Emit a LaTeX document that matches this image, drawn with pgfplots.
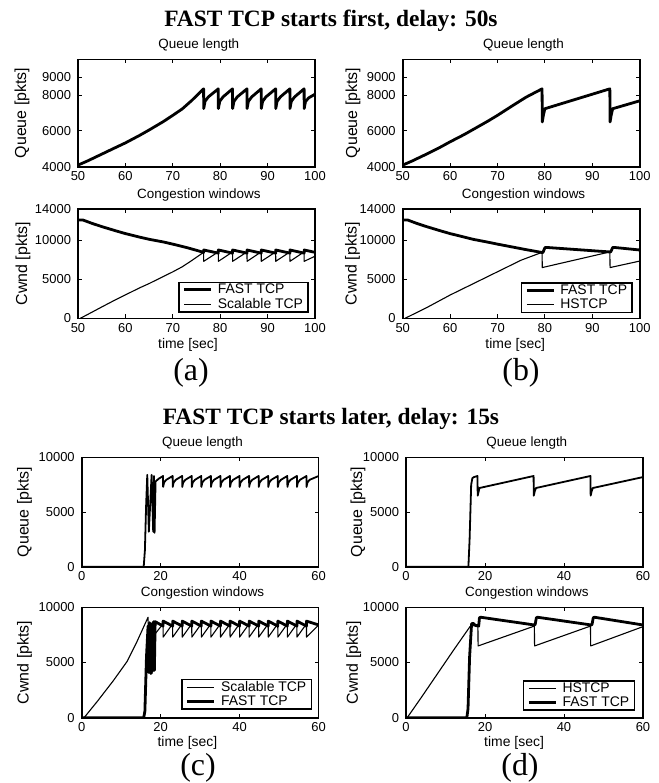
\documentclass[border=0pt]{standalone}
\usepackage{fontspec}
\setmainfont{Liberation Serif}
\setsansfont{Liberation Sans}
\usepackage{pgfplots}
\pgfplotsset{compat=1.18}

\pgfplotsset{
  panel/.style={
    scale only axis,
    width=237bp,
    scaled ticks=false,
    axis line style={line width=1.6bp},
    every tick/.style={black, line width=1bp},
    major tick length=4bp,
    tick align=inside,
    every tick label/.append style={font=\fontsize{13}{14}\selectfont\sffamily},
    xticklabel style={inner sep=1bp, yshift=-4bp},
    yticklabel style={xshift=-3.5bp},
    title style={font=\fontsize{13.5}{15}\selectfont\sffamily, at={(axis description cs:0.51,1)}, anchor=base, yshift=4.5bp},
    ylabel style={font=\fontsize{16}{18}\selectfont\sffamily, anchor=center},
    xlabel style={font=\fontsize{14}{16}\selectfont\sffamily, anchor=base, inner sep=0pt},
    legend image code/.code={\draw[##1] (0bp,0bp) -- (27bp,0bp);},
    legend cell align=left,
    legend style={draw=black, line width=1.6bp, fill=white, inner xsep=4bp, inner ysep=0.5bp,
      nodes={inner sep=1.2bp, text depth=0.2em},
      font=\fontsize{14}{15}\selectfont\sffamily,
      /tikz/every odd column/.append style={column sep=4bp},
      anchor=south east},
  },
  fast/.style={black, line width=2.8bp, line join=round},
  thin/.style={black, line width=1.1bp, line join=round},
}

\begin{document}
\begin{tikzpicture}
\path[use as bounding box] (0bp,0bp) rectangle (659bp,-783bp);

% ---------------- (a) FAST TCP vs Scalable TCP ----------------
\begin{axis}[panel, at={(78bp,-166.7bp)}, anchor=south west, height=107.4bp,
  xmin=50, xmax=100, ymin=4000, ymax=10000,
  xtick={50,60,70,80,90,100}, xticklabels={50,60,70,80,90,100},
  ytick={4000,6000,8000,9000}, yticklabels={4000,6000,8000,9000},
  title={Queue length}, ylabel={Queue [pkts]},
  ylabel style={at={(axis description cs:-0.236,0.5)}}]
\addplot[fast] coordinates {
(50,4090)(52,4320)(55,4700)(58,5080)(60,5330)(63,5750)(65,6050)(68,6520)(70,6870)(72,7230)(74,7700)(76.5,8350)
(76.52,7250)(76.8,7650)(77.5,7900)(79.6,8350)
(79.62,7250)(79.9,7650)(80.6,7900)(82.6,8350)
(82.62,7250)(82.9,7650)(83.6,7900)(85.65,8350)
(85.67,7250)(85.95,7650)(86.65,7900)(88.65,8350)
(88.67,7250)(88.95,7650)(89.65,7900)(91.7,8350)
(91.72,7250)(92.0,7650)(92.7,7900)(94.7,8350)
(94.72,7250)(95.0,7650)(95.7,7900)(97.7,8350)
(97.72,7250)(98.0,7650)(98.7,7850)(100,8050)};
\end{axis}

\begin{axis}[panel, at={(78bp,-318.3bp)}, anchor=south west, height=109.3bp,
  xmin=50, xmax=100, ymin=0, ymax=14000,
  xtick={50,60,70,80,90,100}, xticklabels={50,60,70,80,90,100},
  ytick={0,5000,10000,14000}, yticklabels={0,5000,10000,14000},
  title={Congestion windows}, ylabel={Cwnd [pkts]}, xlabel={time [sec]},
  ylabel style={at={(axis description cs:-0.232,0.5)}},
  xlabel style={at={(axis description cs:0.464,0)}, yshift=-30bp},
  legend style={at={(0.975,0.051)}}]
\addplot[fast] coordinates {
(50,12600)(51,12600)(53,12150)(55,11750)(58,11200)(60,10850)(63,10400)(65,10120)(68,9780)(70,9500)(73,9050)(76.5,8450)
(76.52,8750)(79.6,8350)(79.62,8750)(82.6,8350)(82.62,8750)(85.65,8350)(85.67,8750)(88.65,8350)
(88.67,8750)(91.7,8350)(91.72,8750)(94.7,8350)(94.72,8750)(97.7,8350)(97.72,8750)(100,8450)};
\addlegendentry{FAST TCP}
\addplot[thin] coordinates {
(50.5,0)(53,800)(55,1450)(58,2400)(60,3000)(63,3900)(65,4450)(68,5350)(70,5950)(72,6600)(74,7400)(76.5,8450)
(76.52,7300)(79.6,8500)(79.62,7300)(82.6,8500)(82.62,7300)(85.65,8500)(85.67,7300)(88.65,8500)
(88.67,7300)(91.7,8500)(91.72,7300)(94.7,8500)(94.72,7300)(97.7,8500)(97.72,7300)(100,7950)};
\addlegendentry{Scalable TCP}
\end{axis}

% ---------------- (b) FAST TCP vs HSTCP ----------------
\begin{axis}[panel, at={(402.7bp,-166.7bp)}, anchor=south west, height=107.4bp,
  xmin=50, xmax=100, ymin=4000, ymax=10000,
  xtick={50,60,70,80,90,100}, xticklabels={50,60,70,80,90,100},
  ytick={4000,6000,8000,9000}, yticklabels={4000,6000,8000,9000},
  title={Queue length}, ylabel={Queue [pkts]},
  ylabel style={at={(axis description cs:-0.21,0.5)}}]
\addplot[fast] coordinates {
(50,4090)(52,4320)(55,4700)(58,5100)(60,5390)(63,5800)(65,6100)(68,6550)(70,6870)(73,7380)(76,7880)(79.4,8350)
(79.45,6500)(79.7,6900)(80.0,7240)(93.7,8350)(93.75,6500)(94.0,6900)(94.3,7240)(100,7680)};
\end{axis}

\begin{axis}[panel, at={(402.7bp,-318.3bp)}, anchor=south west, height=109.3bp,
  xmin=50, xmax=100, ymin=0, ymax=14000,
  xtick={50,60,70,80,90,100}, xticklabels={50,60,70,80,90,100},
  ytick={0,5000,10000,14000}, yticklabels={0,5000,10000,14000},
  title={Congestion windows}, ylabel={Cwnd [pkts]}, xlabel={time [sec]},
  ylabel style={at={(axis description cs:-0.212,0.5)}},
  xlabel style={at={(axis description cs:0.475,0)}, yshift=-30bp},
  legend style={at={(0.972,0.046)}}]
\addplot[fast] coordinates {
(50,12600)(51,12600)(53,12150)(55,11750)(58,11200)(60,10850)(63,10400)(65,10100)(68,9750)(70,9500)(73,9150)(76,8800)(79.4,8430)
(79.6,8450)(80.0,9050)(80.3,9080)(93.7,8500)(93.9,8520)(94.3,9060)(94.6,9080)(100,8750)};
\addlegendentry{FAST TCP}
\addplot[thin] coordinates {
(50.5,0)(55,1350)(60,2980)(65,4470)(70,5960)(75,7450)(79.4,8450)(79.45,6500)(93.7,8500)(93.75,6500)(100,7330)};
\addlegendentry{HSTCP}
\end{axis}

% ---------------- (c) Scalable TCP first, FAST TCP later ----------------
\begin{axis}[panel, at={(81.7bp,-566.7bp)}, anchor=south west, height=109.3bp,
  xmin=0, xmax=60, ymin=0, ymax=10000,
  xtick={0,20,40,60}, xticklabels={0,20,40,60},
  ytick={0,5000,10000}, yticklabels={0,5000,10000},
  title={Queue length}, ylabel={Queue [pkts]},
  ylabel style={at={(axis description cs:-0.241,0.5)}}]
\addplot[fast, line width=1.8bp] coordinates {
(0,0)(15.7,0)(16.0,1500)(16.3,5500)(16.6,8400)(17.0,3200)(17.7,8400)(18.1,3200)(18.3,8300)(18.45,3100)(18.7,7800)(19.5,8050)(20.6,8300)
(20.62,7300)(20.85,7700)(21.4,7950)(23.02,8300)(23.04,7300)(23.27,7700)(23.82,7950)(25.44,8300)
(25.46,7300)(25.69,7700)(26.24,7950)(27.86,8300)(27.88,7300)(28.11,7700)(28.66,7950)(30.28,8300)
(30.30,7300)(30.53,7700)(31.08,7950)(32.70,8300)(32.72,7300)(32.95,7700)(33.50,7950)(35.12,8300)
(35.14,7300)(35.37,7700)(35.92,7950)(37.54,8300)(37.56,7300)(37.79,7700)(38.34,7950)(39.96,8300)
(39.98,7300)(40.21,7700)(40.76,7950)(42.38,8300)(42.40,7300)(42.63,7700)(43.18,7950)(44.80,8300)
(44.82,7300)(45.05,7700)(45.60,7950)(47.22,8300)(47.24,7300)(47.47,7700)(48.02,7950)(49.64,8300)
(49.66,7300)(49.89,7700)(50.44,7950)(52.06,8300)(52.08,7300)(52.31,7700)(52.86,7950)(54.48,8300)
(54.50,7300)(54.73,7700)(55.28,7950)(56.90,8300)(56.92,7300)(57.15,7700)(57.70,7950)(60,8300)};
\end{axis}

\begin{axis}[panel, at={(81.7bp,-717.7bp)}, anchor=south west, height=110.4bp,
  xmin=0, xmax=60, ymin=0, ymax=10000,
  xtick={0,20,40,60}, xticklabels={0,20,40,60},
  ytick={0,5000,10000}, yticklabels={0,5000,10000},
  title={Congestion windows}, ylabel={Cwnd [pkts]}, xlabel={time [sec]},
  ylabel style={at={(axis description cs:-0.241,0.5)}},
  xlabel style={at={(axis description cs:0.446,0)}, yshift=-29bp},
  legend style={at={(0.973,0.07)}}]
\addplot[thin] coordinates {
(0.6,0)(4,1500)(8,3350)(11.5,5100)(14,6900)(16.8,9100)(17.0,4200)(17.4,8400)(17.8,4000)(18.1,8300)(18.4,4300)(18.6,7600)(20.6,8500)
(20.62,7300)(23.02,8500)(23.04,7300)(25.44,8500)(25.46,7300)(27.86,8500)(27.88,7300)(30.28,8500)
(30.30,7300)(32.70,8500)(32.72,7300)(35.12,8500)(35.14,7300)(37.54,8500)(37.56,7300)(39.96,8500)
(39.98,7300)(42.38,8500)(42.40,7300)(44.80,8500)(44.82,7300)(47.22,8500)(47.24,7300)(49.64,8500)
(49.66,7300)(52.06,8500)(52.08,7300)(54.48,8500)(54.50,7300)(56.90,8500)(56.92,7300)(60,8400)};
\addlegendentry{Scalable TCP}
\addplot[fast] coordinates {
(0,0)(15.7,0)(16.0,600)(16.4,5500)(16.8,8300)(17.0,4100)(17.2,8600)(17.5,4000)(17.7,8500)(17.9,4200)(18.2,8700)(18.4,4300)(18.6,8700)(20.6,8300)
(20.62,8750)(23.02,8300)(23.04,8750)(25.44,8300)(25.46,8750)(27.86,8300)(27.88,8750)(30.28,8300)
(30.30,8750)(32.70,8300)(32.72,8750)(35.12,8300)(35.14,8750)(37.54,8300)(37.56,8750)(39.96,8300)
(39.98,8750)(42.38,8300)(42.40,8750)(44.80,8300)(44.82,8750)(47.22,8300)(47.24,8750)(49.64,8300)
(49.66,8750)(52.06,8300)(52.08,8750)(54.48,8300)(54.50,8750)(56.90,8300)(56.92,8750)(60,8400)};
\addlegendentry{FAST TCP}
\end{axis}

% ---------------- (d) HSTCP first, FAST TCP later ----------------
\begin{axis}[panel, at={(406bp,-566.7bp)}, anchor=south west, height=109.3bp,
  xmin=0, xmax=60, ymin=0, ymax=10000,
  xtick={0,20,40,60}, xticklabels={0,20,40,60},
  ytick={0,5000,10000}, yticklabels={0,5000,10000},
  title={Queue length}, ylabel={Queue [pkts]},
  ylabel style={at={(axis description cs:-0.203,0.5)}}]
\addplot[fast, line width=1.8bp] coordinates {
(0,0)(15.8,0)(16.1,2500)(16.5,7500)(16.8,8100)(17.2,8200)(18.1,8300)(18.15,6500)(18.4,6900)(18.6,7200)
(32.3,8300)(32.35,6500)(32.6,6900)(32.9,7200)(46.7,8300)(46.75,6500)(47.0,6900)(47.3,7200)(60,8200)};
\end{axis}

\begin{axis}[panel, at={(406bp,-717.7bp)}, anchor=south west, height=110.4bp,
  xmin=0, xmax=60, ymin=0, ymax=10000,
  xtick={0,20,40,60}, xticklabels={0,20,40,60},
  ytick={0,5000,10000}, yticklabels={0,5000,10000},
  title={Congestion windows}, ylabel={Cwnd [pkts]}, xlabel={time [sec]},
  ylabel style={at={(axis description cs:-0.22,0.5)}},
  xlabel style={at={(axis description cs:0.456,0)}, yshift=-29bp},
  legend style={at={(0.967,0.06)}}]
\addplot[thin] coordinates {
(0.3,0)(4,1900)(8,4000)(12,6100)(16.2,8250)(18.2,8450)(18.25,6500)(32.5,8300)(32.55,6500)(46.7,8300)(46.75,6500)(60,8250)};
\addlegendentry{HSTCP}
\addplot[fast] coordinates {
(0,0)(15.4,0)(15.7,800)(16.1,5500)(16.6,8500)(17.0,8550)(17.6,8350)(18.4,8300)(18.6,9050)(18.9,9100)
(32.5,8400)(32.7,8450)(33.0,9050)(33.3,9100)(46.9,8400)(47.1,8450)(47.4,9050)(47.7,9100)(60,8400)};
\addlegendentry{FAST TCP}
\end{axis}

% panel headings and sub-figure tags
\node[anchor=base, font=\fontsize{23.5}{26}\selectfont\bfseries] at (331bp,-26.7bp) {FAST TCP starts first, delay: 50s};
\node[anchor=base, font=\fontsize{23.5}{26}\selectfont\bfseries] at (331bp,-424bp) {FAST TCP starts later, delay: 15s};
\node[anchor=base, font=\fontsize{32}{34}\selectfont] at (191bp,-380bp) {(a)};
\node[anchor=base, font=\fontsize{32}{34}\selectfont] at (521bp,-380bp) {(b)};
\node[anchor=base, font=\fontsize{32}{34}\selectfont] at (198bp,-775bp) {(c)};
\node[anchor=base, font=\fontsize{32}{34}\selectfont] at (520bp,-775bp) {(d)};
\end{tikzpicture}
\end{document}
